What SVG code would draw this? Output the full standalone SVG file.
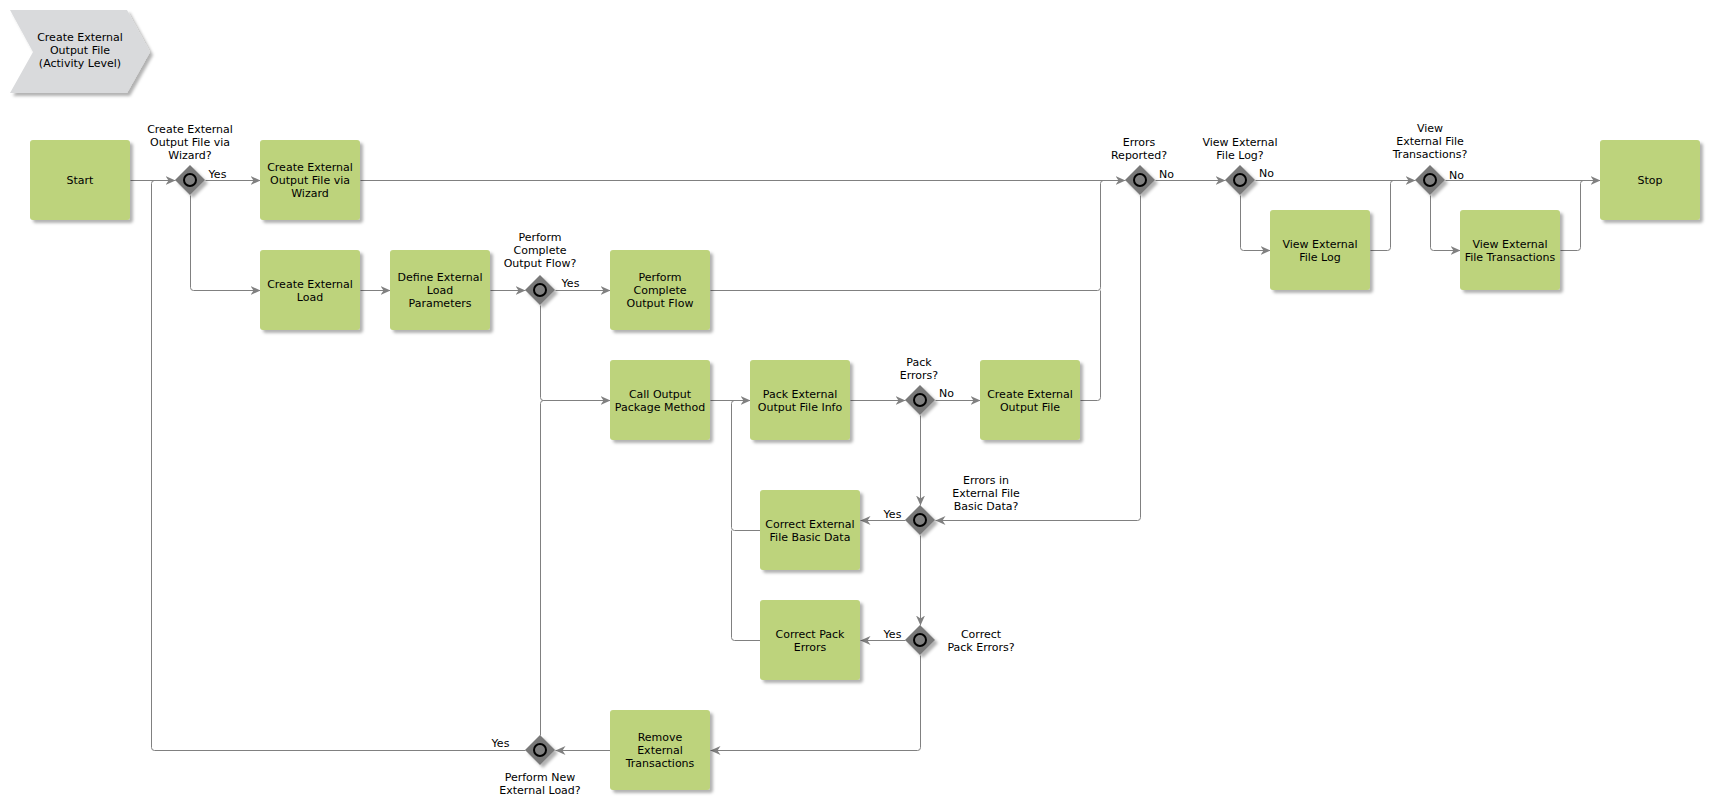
<svg xmlns="http://www.w3.org/2000/svg" width="1710" height="807" viewBox="0 0 1710 807">
<style>
text{font-family:"DejaVu Sans",Verdana,sans-serif;font-size:11px;fill:#000}
.t{text-anchor:middle}
.box{fill:#bdd37b}
.gw{fill:#787878}
.gc{fill:#808080;stroke:#000;stroke-width:2}
.c{fill:none;stroke:#808080;stroke-width:1}
.a{marker-end:url(#arr)}
</style>
<defs>
<filter id="sh" x="-20%" y="-20%" width="150%" height="150%">
<feDropShadow dx="3" dy="3" stdDeviation="1.5" flood-color="#000" flood-opacity="0.3"/>
</filter>
<marker id="arr" markerWidth="10" markerHeight="9" refX="10" refY="4.5" orient="auto" markerUnits="userSpaceOnUse">
<path d="M0,0 L10,4.5 L0,9 L3,4.5 Z" fill="#808080"/>
</marker>
</defs>
<rect width="1710" height="807" fill="#fff"/>

<g id="title">
<polygon points="10,10 127,10 150,52 127,93 10,93 33,52" fill="#d9dadc" filter="url(#sh)"/>
<text class="t" x="80" y="41">Create External</text>
<text class="t" x="80" y="54">Output File</text>
<text class="t" x="80" y="67">(Activity Level)</text>
</g>

<g id="connectors" transform="translate(0.5,0.5)">
<path class="c a" d="M130,180 H175"/>
<path class="c a" d="M205,180 H260"/>
<path class="c a" d="M190,195 V287 Q190,290 193,290 H260"/>
<path class="c a" d="M360,180 H1125"/>
<path class="c a" d="M360,290 H390"/>
<path class="c a" d="M490,290 H525"/>
<path class="c a" d="M555,290 H610"/>
<path class="c a" d="M540,305 V397 Q540,400 543,400 H610"/>
<path class="c" d="M710,290 H1097 Q1100,290 1100,287 V183 Q1100,180 1103,180 H1120"/>
<path class="c a" d="M710,400 H750"/>
<path class="c a" d="M850,400 H905"/>
<path class="c a" d="M935,400 H980"/>
<path class="c a" d="M920,415 V505"/>
<path class="c" d="M1080,400 H1097 Q1100,400 1100,397 V290"/>
<path class="c a" d="M1155,180 H1225"/>
<path class="c a" d="M1140,195 V517 Q1140,520 1137,520 H935"/>
<path class="c a" d="M1255,180 H1415"/>
<path class="c a" d="M1240,195 V247 Q1240,250 1243,250 H1270"/>
<path class="c" d="M1370,250 H1387 Q1390,250 1390,247 V183 Q1390,180 1393,180 H1410"/>
<path class="c a" d="M1445,180 H1600"/>
<path class="c a" d="M1430,195 V247 Q1430,250 1433,250 H1460"/>
<path class="c" d="M1560,250 H1577 Q1580,250 1580,247 V183 Q1580,180 1583,180 H1595"/>
<path class="c a" d="M905,520 H860"/>
<path class="c a" d="M920,535 V625"/>
<path class="c" d="M760,530 H734 Q731,530 731,527 V403 Q731,400 734,400 H745"/>
<path class="c a" d="M905,640 H860"/>
<path class="c" d="M760,640 H734 Q731,640 731,637 V530"/>
<path class="c a" d="M920,655 V747 Q920,750 917,750 H710"/>
<path class="c a" d="M610,750 H555"/>
<path class="c" d="M540,735 V403 Q540,400 543,400 H605"/>
<path class="c" d="M525,750 H154 Q151,750 151,747 V183 Q151,180 154,180 H170"/>
<text class="t" x="217" y="177">Yes</text>
<text class="t" x="570" y="286">Yes</text>
<text class="t" x="1166" y="177">No</text>
<text class="t" x="1266" y="176">No</text>
<text class="t" x="1456" y="178">No</text>
<text class="t" x="946" y="396">No</text>
<text class="t" x="892" y="517">Yes</text>
<text class="t" x="892" y="637">Yes</text>
<text class="t" x="500" y="746">Yes</text>
</g>

<g id="start"><rect class="box" x="30" y="140" width="100" height="80" rx="3" filter="url(#sh)"/>
<text class="t" x="80" y="184">Start</text></g>

<g id="gw-wizard"><polygon class="gw" points="190,165 205,180 190,195 175,180" filter="url(#sh)"/><circle class="gc" cx="190" cy="180" r="6"/>
<text class="t" x="190" y="133">Create External</text><text class="t" x="190" y="146">Output File via</text><text class="t" x="190" y="159">Wizard?</text></g>

<g id="wizard"><rect class="box" x="260" y="140" width="100" height="80" rx="3" filter="url(#sh)"/>
<text class="t" x="310" y="171">Create External</text><text class="t" x="310" y="184">Output File via</text><text class="t" x="310" y="197">Wizard</text></g>

<g id="load"><rect class="box" x="260" y="250" width="100" height="80" rx="3" filter="url(#sh)"/>
<text class="t" x="310" y="287.5">Create External</text><text class="t" x="310" y="300.5">Load</text></g>

<g id="define"><rect class="box" x="390" y="250" width="100" height="80" rx="3" filter="url(#sh)"/>
<text class="t" x="440" y="281">Define External</text><text class="t" x="440" y="294">Load</text><text class="t" x="440" y="307">Parameters</text></g>

<g id="gw-complete"><polygon class="gw" points="540,275 555,290 540,305 525,290" filter="url(#sh)"/><circle class="gc" cx="540" cy="290" r="6"/>
<text class="t" x="540" y="241">Perform</text><text class="t" x="540" y="254">Complete</text><text class="t" x="540" y="267">Output Flow?</text></g>

<g id="perform"><rect class="box" x="610" y="250" width="100" height="80" rx="3" filter="url(#sh)"/>
<text class="t" x="660" y="281">Perform</text><text class="t" x="660" y="294">Complete</text><text class="t" x="660" y="307">Output Flow</text></g>

<g id="call"><rect class="box" x="610" y="360" width="100" height="80" rx="3" filter="url(#sh)"/>
<text class="t" x="660" y="397.5">Call Output</text><text class="t" x="660" y="410.5">Package Method</text></g>

<g id="pack"><rect class="box" x="750" y="360" width="100" height="80" rx="3" filter="url(#sh)"/>
<text class="t" x="800" y="397.5">Pack External</text><text class="t" x="800" y="410.5">Output File Info</text></g>

<g id="gw-pack"><polygon class="gw" points="920,385 935,400 920,415 905,400" filter="url(#sh)"/><circle class="gc" cx="920" cy="400" r="6"/>
<text class="t" x="919" y="366">Pack</text><text class="t" x="919" y="379">Errors?</text></g>

<g id="createfile"><rect class="box" x="980" y="360" width="100" height="80" rx="3" filter="url(#sh)"/>
<text class="t" x="1030" y="397.5">Create External</text><text class="t" x="1030" y="410.5">Output File</text></g>

<g id="gw-errors"><polygon class="gw" points="1140,165 1155,180 1140,195 1125,180" filter="url(#sh)"/><circle class="gc" cx="1140" cy="180" r="6"/>
<text class="t" x="1139" y="146">Errors</text><text class="t" x="1139" y="159">Reported?</text></g>

<g id="gw-log"><polygon class="gw" points="1240,165 1255,180 1240,195 1225,180" filter="url(#sh)"/><circle class="gc" cx="1240" cy="180" r="6"/>
<text class="t" x="1240" y="146">View External</text><text class="t" x="1240" y="159">File Log?</text></g>

<g id="viewlog"><rect class="box" x="1270" y="210" width="100" height="80" rx="3" filter="url(#sh)"/>
<text class="t" x="1320" y="247.5">View External</text><text class="t" x="1320" y="260.5">File Log</text></g>

<g id="gw-trans"><polygon class="gw" points="1430,165 1445,180 1430,195 1415,180" filter="url(#sh)"/><circle class="gc" cx="1430" cy="180" r="6"/>
<text class="t" x="1430" y="132">View</text><text class="t" x="1430" y="145">External File</text><text class="t" x="1430" y="158">Transactions?</text></g>

<g id="viewtrans"><rect class="box" x="1460" y="210" width="100" height="80" rx="3" filter="url(#sh)"/>
<text class="t" x="1510" y="247.5">View External</text><text class="t" x="1510" y="260.5">File Transactions</text></g>

<g id="stop"><rect class="box" x="1600" y="140" width="100" height="80" rx="3" filter="url(#sh)"/>
<text class="t" x="1650" y="184">Stop</text></g>

<g id="gw-basic"><polygon class="gw" points="920,505 935,520 920,535 905,520" filter="url(#sh)"/><circle class="gc" cx="920" cy="520" r="6"/>
<text class="t" x="986" y="484">Errors in</text><text class="t" x="986" y="497">External File</text><text class="t" x="986" y="510">Basic Data?</text></g>

<g id="correctbasic"><rect class="box" x="760" y="490" width="100" height="80" rx="3" filter="url(#sh)"/>
<text class="t" x="810" y="527.5">Correct External</text><text class="t" x="810" y="540.5">File Basic Data</text></g>

<g id="gw-correctpack"><polygon class="gw" points="920,625 935,640 920,655 905,640" filter="url(#sh)"/><circle class="gc" cx="920" cy="640" r="6"/>
<text class="t" x="981" y="638">Correct</text><text class="t" x="981" y="651">Pack Errors?</text></g>

<g id="correctpack"><rect class="box" x="760" y="600" width="100" height="80" rx="3" filter="url(#sh)"/>
<text class="t" x="810" y="637.5">Correct Pack</text><text class="t" x="810" y="650.5">Errors</text></g>

<g id="remove"><rect class="box" x="610" y="710" width="100" height="80" rx="3" filter="url(#sh)"/>
<text class="t" x="660" y="741">Remove</text><text class="t" x="660" y="754">External</text><text class="t" x="660" y="767">Transactions</text></g>

<g id="gw-newload"><polygon class="gw" points="540,735 555,750 540,765 525,750" filter="url(#sh)"/><circle class="gc" cx="540" cy="750" r="6"/>
<text class="t" x="540" y="781">Perform New</text><text class="t" x="540" y="794">External Load?</text></g>
</svg>
